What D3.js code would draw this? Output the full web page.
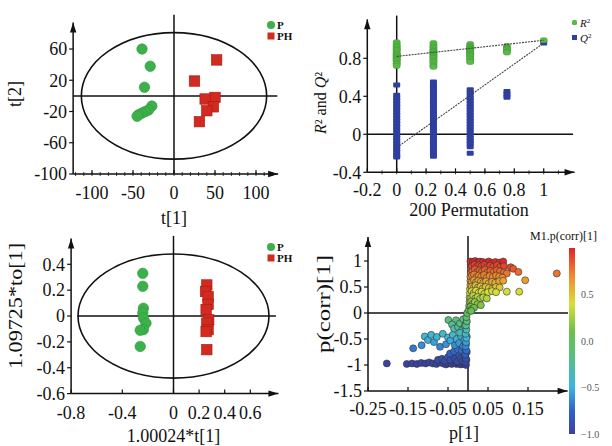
<!DOCTYPE html>
<html>
<head>
<meta charset="utf-8">
<script src="https://cdn.jsdelivr.net/npm/d3@7"></script>
<style>
  body { margin: 0; background: #fff; }
  svg { display: block; }
  text { font-family: "Liberation Serif", "Times New Roman", serif; fill: #111; }
</style>
</head>
<body>
<script>
// ---------- data ----------

// PCA score plot (top left)
var pcaP_t1  = [-39, -29, -36, -27, -31, -35, -39, -43, -45];
var pcaP_t2  = [60, 38, 11, -13, -18, -20, -22, -24, -26];
var pcaPH_t1 = [52, 25, 50, 38, 48, 40, 31];
var pcaPH_t2 = [46, 19, -2, -4, -14, -19, -33];
var pcaXTicks = [-100, -50, 0, 50, 100];
var pcaYTicks = [60, 20, -20, -60, -100];

// permutation test (top right)
var permX = [0, 0.25, 0.5, 0.75, 1];
var r2Perm = [
  [0.97, 0.95, 0.93, 0.92, 0.90, 0.89, 0.88, 0.86, 0.85, 0.84, 0.83, 0.82, 0.81, 0.80, 0.79, 0.78, 0.77, 0.75, 0.74, 0.72],
  [0.96, 0.94, 0.92, 0.91, 0.89, 0.88, 0.87, 0.86, 0.85, 0.84, 0.83, 0.82, 0.81, 0.80, 0.78, 0.77, 0.76, 0.74, 0.72, 0.71],
  [0.95, 0.93, 0.92, 0.91, 0.90, 0.89, 0.88, 0.87, 0.86, 0.85, 0.84, 0.83, 0.82, 0.80, 0.79, 0.77, 0.76],
  [0.93, 0.91, 0.90, 0.89, 0.87, 0.86],
  [0.99]
];
var q2Perm = [
  [0.52, 0.41, 0.38, 0.35, 0.32, 0.29, 0.26, 0.23, 0.20, 0.17, 0.14, 0.11, 0.08, 0.05, 0.02, -0.01, -0.04, -0.07, -0.10, -0.13, -0.16, -0.19, -0.22, -0.24],
  [0.55, 0.52, 0.49, 0.46, 0.43, 0.40, 0.37, 0.34, 0.31, 0.28, 0.25, 0.22, 0.19, 0.16, 0.13, 0.10, 0.07, 0.04, 0.01, -0.02, -0.05, -0.08, -0.11, -0.14, -0.17, -0.20, -0.23],
  [0.47, 0.44, 0.41, 0.38, 0.35, 0.32, 0.29, 0.26, 0.23, 0.20, 0.17, 0.14, 0.11, 0.08, 0.05, 0.02, -0.01, -0.04, -0.07, -0.10, -0.13, -0.20],
  [0.45, 0.42, 0.39],
  [0.96]
];
var r2Fit = [[0, 0.82], [1, 0.99]];
var q2Fit = [[0, -0.14], [1, 0.96]];
var permXTicks = [-0.2, 0, 0.2, 0.4, 0.6, 0.8, 1];
var permYTicks = [0.8, 0.4, 0, -0.4];

// OPLS-DA score plot (bottom left)
var oplsP_t  = [-0.24, -0.24, -0.235, -0.24, -0.235, -0.215, -0.235, -0.26, -0.26];
var oplsP_to = [0.33, 0.23, 0.06, 0.025, -0.015, -0.055, -0.105, -0.11, -0.235];
var oplsPH_t  = [0.26, 0.25, 0.27, 0.27, 0.255, 0.275, 0.26, 0.27, 0.255, 0.26];
var oplsPH_to = [0.24, 0.19, 0.15, 0.09, 0.05, -0.03, -0.055, -0.105, -0.12, -0.26];
var oplsXTicks = [-0.8, -0.4, 0, 0.2, 0.4, 0.6];
var oplsYTicks = [0.4, 0.2, 0, -0.2, -0.4, -0.6];

// S-plot (bottom right): [p[1], p(corr)[1]]
var sPlot = [
  [-0.203,-0.97],[-0.153,-0.98],[-0.140,-0.97],[-0.128,-0.98],[-0.117,-0.96],[-0.106,-0.97],[-0.097,-0.95],
  [-0.088,-0.97],[-0.079,-0.98],[-0.070,-0.95],[-0.062,-0.97],[-0.055,-0.99],[-0.048,-0.96],[-0.041,-0.98],
  [-0.035,-0.95],[-0.029,-0.98],[-0.023,-0.97],[-0.018,-0.99],[-0.013,-0.96],[-0.009,-0.98],[-0.005,-1.0],
  [-0.075,-0.90],[-0.065,-0.88],[-0.058,-0.92],[-0.050,-0.85],[-0.044,-0.90],[-0.038,-0.82],[-0.032,-0.88],
  [-0.027,-0.93],[-0.022,-0.80],[-0.018,-0.87],[-0.014,-0.92],[-0.010,-0.78],[-0.007,-0.85],[-0.004,-0.90],
  [-0.045,-0.78],[-0.035,-0.74],[-0.025,-0.70],[-0.016,-0.72],[-0.008,-0.68],[-0.003,-0.75],
  [-0.137,-0.68],[-0.116,-0.62],[-0.108,-0.45],[-0.100,-0.52],[-0.092,-0.42],[-0.085,-0.56],[-0.078,-0.46],
  [-0.070,-0.65],[-0.063,-0.40],[-0.055,-0.60],[-0.050,-0.47],[-0.044,-0.53],[-0.038,-0.42],[-0.033,-0.62],
  [-0.028,-0.50],[-0.022,-0.58],[-0.018,-0.44],[-0.012,-0.64],[-0.009,-0.52],[-0.005,-0.60],[-0.003,-0.45],
  [-0.049,-0.135],[-0.030,-0.14],[-0.040,-0.22],[-0.035,-0.30],[-0.025,-0.27],[-0.020,-0.20],[-0.015,-0.33],
  [-0.012,-0.12],[-0.008,-0.25],[-0.004,-0.18],[-0.020,-0.38],
  [-0.006,-0.95],[-0.005,-0.88],[-0.007,-0.80],[-0.004,-0.72],[-0.006,-0.64],[-0.005,-0.56],[-0.004,-0.48],
  [-0.006,-0.40],[-0.004,-0.32],[-0.005,-0.24],[-0.003,-0.16],[-0.004,-0.08],[-0.002,0.0],
  [0.002,0.06],[0.003,0.14],[0.004,0.22],[0.004,0.30],[0.005,0.38],[0.005,0.46],[0.006,0.54],[0.006,0.62],
  [0.006,0.70],[0.007,0.78],[0.007,0.86],[0.007,0.94],
  [0.006,0.99],[0.012,0.98],[0.018,1.0],[0.024,0.97],[0.030,0.99],[0.037,0.98],[0.045,0.97],[0.052,0.99],
  [0.060,0.96],[0.068,0.98],[0.078,0.97],[0.088,0.99],
  [0.010,0.90],[0.016,0.93],[0.022,0.89],[0.028,0.92],[0.034,0.90],[0.041,0.93],[0.048,0.88],[0.055,0.91],
  [0.063,0.89],[0.072,0.92],[0.080,0.88],[0.090,0.90],[0.107,0.88],[0.113,0.85],
  [0.011,0.80],[0.017,0.84],[0.023,0.79],[0.029,0.82],[0.035,0.80],[0.042,0.83],[0.049,0.78],[0.056,0.81],
  [0.064,0.79],[0.072,0.82],[0.080,0.80],[0.090,0.78],[0.097,0.76],[0.126,0.79],[0.222,0.76],
  [0.010,0.72],[0.015,0.74],[0.021,0.69],[0.027,0.72],[0.033,0.70],[0.040,0.73],[0.047,0.68],[0.054,0.71],
  [0.062,0.69],[0.070,0.72],[0.078,0.70],[0.086,0.68],
  [0.010,0.60],[0.015,0.63],[0.020,0.59],[0.026,0.62],[0.032,0.60],[0.038,0.58],[0.045,0.61],[0.052,0.57],
  [0.060,0.60],[0.068,0.58],[0.078,0.61],[0.088,0.62],[0.143,0.63],
  [0.009,0.50],[0.014,0.48],[0.019,0.53],[0.025,0.49],[0.031,0.51],[0.037,0.47],[0.044,0.50],[0.052,0.48],
  [0.060,0.46],[0.070,0.50],[0.079,0.49],
  [0.009,0.42],[0.014,0.38],[0.020,0.43],[0.027,0.39],[0.034,0.41],[0.041,0.37],[0.050,0.40],[0.060,0.42],
  [0.070,0.40],[0.097,0.41],[0.128,0.41],
  [0.008,0.29],[0.013,0.33],[0.018,0.28],[0.024,0.31],[0.030,0.27],[0.038,0.30],[0.047,0.28],
  [0.008,0.22],[0.012,0.18],[0.017,0.21],[0.024,0.17],[0.032,0.15],
  [0.006,0.12],[0.010,0.08],[0.015,0.10],[0.008,0.04]
];
var sXTicks = [-0.25, -0.15, -0.05, 0.05, 0.15];
var sYTicks = [1, 0.5, 0, -0.5, -1, -1.5];
var cbTicks = [0.5, 0.0, -0.5, -1.0];

// ---------- drawing ----------
var svg = d3.select("body").append("svg")
    .attr("width", 612)
    .attr("height", 446);

var ink = "#111";
var green = "#3cb04a", red = "#d22a1f";

function arrowLine(x1, y1, x2, y2) {
  svg.append("line")
      .attr("x1", x1).attr("y1", y1).attr("x2", x2).attr("y2", y2)
      .attr("stroke", ink).attr("stroke-width", 1.5);
  var a = Math.atan2(y2 - y1, x2 - x1), L = 10, W = 3.2;
  var bx = x2 - L * Math.cos(a), by = y2 - L * Math.sin(a);
  svg.append("path")
      .attr("d", "M" + x2 + "," + y2 +
                 "L" + (bx + W * Math.sin(a)) + "," + (by - W * Math.cos(a)) +
                 "L" + (bx - W * Math.sin(a)) + "," + (by + W * Math.cos(a)) + "Z")
      .attr("fill", ink);
}

function plainLine(x1, y1, x2, y2) {
  svg.append("line")
      .attr("x1", x1).attr("y1", y1).attr("x2", x2).attr("y2", y2)
      .attr("stroke", ink).attr("stroke-width", 1.5);
}

function yTicks(ticks, y, axisX, fmt) {
  ticks.forEach(function(t) {
    svg.append("line").attr("x1", axisX - 4).attr("x2", axisX)
        .attr("y1", y(t)).attr("y2", y(t)).attr("stroke", ink).attr("stroke-width", 1.2);
    svg.append("text").attr("x", axisX - 6).attr("y", y(t)).attr("dy", "0.35em")
        .attr("text-anchor", "end").style("font-size", "18px").text(fmt ? fmt(t) : t);
  });
}

function xTicks(ticks, x, axisY, labelY, fmt) {
  ticks.forEach(function(t) {
    svg.append("line").attr("x1", x(t)).attr("x2", x(t))
        .attr("y1", axisY - 4).attr("y2", axisY).attr("stroke", ink).attr("stroke-width", 1.2);
    svg.append("text").attr("x", x(t)).attr("y", labelY)
        .attr("text-anchor", "middle").style("font-size", "18px").text(fmt ? fmt(t) : t);
  });
}

function minorTicks(values, x, axisY) {
  values.forEach(function(t) {
    svg.append("line").attr("x1", x(t)).attr("x2", x(t))
        .attr("y1", axisY - 2).attr("y2", axisY + 2).attr("stroke", ink).attr("stroke-width", 0.8);
  });
}

function groupLegend(x, y) {
  svg.append("circle").attr("cx", x).attr("cy", y).attr("r", 4)
      .attr("fill", green);
  svg.append("text").attr("x", x + 6).attr("y", y + 4)
      .style("font-size", "11px").style("font-weight", "bold").text("P");
  svg.append("rect").attr("x", x - 3.5).attr("y", y + 7.5).attr("width", 7).attr("height", 7)
      .attr("fill", red);
  svg.append("text").attr("x", x + 6).attr("y", y + 15)
      .style("font-size", "11px").style("font-weight", "bold").text("PH");
}

function drawScores(x, y, px, py, hx, hy, size) {
  svg.selectAll(null).data(px).enter().append("circle")
      .attr("cx", function(d) { return x(d); })
      .attr("cy", function(d, i) { return y(py[i]); })
      .attr("r", size / 2)
      .attr("fill", green).attr("stroke", "#2f9a3c").attr("stroke-width", 0.6);
  svg.selectAll(null).data(hx).enter().append("rect")
      .attr("x", function(d) { return x(d) - size / 2; })
      .attr("y", function(d, i) { return y(hy[i]) - size / 2; })
      .attr("width", size).attr("height", size)
      .attr("fill", red).attr("stroke", "#a51c14").attr("stroke-width", 0.6);
}

// ===== panel 1: PCA =====
var x1 = d3.scaleLinear().domain([-100, 100]).range([92, 256]);
var y1 = d3.scaleLinear().domain([-100, 60]).range([174, 49]);
svg.append("ellipse")
    .attr("cx", x1(0)).attr("cy", y1(0))
    .attr("rx", x1(113) - x1(0)).attr("ry", y1(0) - y1(81))
    .attr("fill", "none").attr("stroke", ink).attr("stroke-width", 1.6);
plainLine(x1(-123), y1(0), x1(126), y1(0));
plainLine(x1(0), y1(-100), x1(0), y1(104));
drawScores(x1, y1, pcaP_t1, pcaP_t2, pcaPH_t1, pcaPH_t2, 10.5);
arrowLine(x1(-123), y1(-100), x1(-123), y1(94));
arrowLine(x1(-123), y1(-100), x1(127), y1(-100));
minorTicks(d3.range(-120, 121, 10), x1, y1(-100));
yTicks(pcaYTicks, y1, x1(-123));
xTicks(pcaXTicks, x1, y1(-100), 199);
svg.append("text").attr("x", x1(0)).attr("y", 224).attr("text-anchor", "middle")
    .style("font-size", "18px").text("t[1]");
svg.append("text").attr("transform", "translate(21,94) rotate(-90)").attr("text-anchor", "middle")
    .style("font-size", "18px").text("t[2]");
groupLegend(271, 25);

// ===== panel 2: permutation test =====
var x2 = d3.scaleLinear().domain([0, 1]).range([396.7, 543.7]);
var y2 = d3.scaleLinear().domain([-0.4, 0.8]).range([172.3, 58.3]);
plainLine(x2(-0.2), y2(0), x2(1.2), y2(0));
plainLine(x2(0), y2(-0.4), x2(0), y2(1.25));

var r2Pts = [], q2Pts = [];
permX.forEach(function(px, i) {
  r2Perm[i].forEach(function(v) { r2Pts.push([px, v]); });
  q2Perm[i].forEach(function(v) { q2Pts.push([px, v]); });
});
svg.selectAll(null).data(q2Pts).enter().append("rect")
    .attr("x", function(d) { return x2(d[0]) - 3.5; })
    .attr("y", function(d) { return y2(d[1]) - 2.5; })
    .attr("width", 7).attr("height", 5).attr("rx", 1)
    .attr("fill", "#2f3f9f");
svg.selectAll(null).data(r2Pts).enter().append("rect")
    .attr("x", function(d) { return x2(d[0]) - 3.5; })
    .attr("y", function(d) { return y2(d[1]) - 2.5; })
    .attr("width", 7).attr("height", 5).attr("rx", 2)
    .attr("fill", "#5cb848").attr("stroke", "#3f9a35").attr("stroke-width", 0.5);
var fitLine = d3.line().x(function(d) { return x2(d[0]); }).y(function(d) { return y2(d[1]); });
[r2Fit, q2Fit].forEach(function(f) {
  svg.append("path").attr("d", fitLine(f))
      .attr("fill", "none").attr("stroke", "#444").attr("stroke-width", 1.1)
      .attr("stroke-dasharray", "2,1");
});
arrowLine(x2(-0.2), y2(-0.4), x2(-0.2), y2(1.21));
arrowLine(x2(-0.2), y2(-0.4), x2(1.21), y2(-0.4));
minorTicks(d3.range(-0.1, 1.15, 0.1), x2, y2(-0.4));
yTicks(permYTicks, y2, x2(-0.2));
xTicks(permXTicks, x2, y2(-0.4), 196);
svg.append("text").attr("x", 469).attr("y", 216).attr("text-anchor", "middle")
    .style("font-size", "18px").text("200 Permutation");
var r2lab = svg.append("text").attr("transform", "translate(326,103) rotate(-90)")
    .attr("text-anchor", "middle").style("font-size", "16px");
r2lab.append("tspan").style("font-style", "italic").text("R");
r2lab.append("tspan").text("² and ");
r2lab.append("tspan").style("font-style", "italic").text("Q");
r2lab.append("tspan").text("²");
// legend
svg.append("rect").attr("x", 572).attr("y", 20).attr("width", 5).attr("height", 5).attr("rx", 1.5)
    .attr("fill", "#5cb848");
svg.append("rect").attr("x", 572).attr("y", 35).attr("width", 5).attr("height", 5)
    .attr("fill", "#2f3f9f");
var lg1 = svg.append("text").attr("x", 580).attr("y", 27).style("font-size", "11px");
lg1.append("tspan").style("font-style", "italic").text("R");
lg1.append("tspan").style("font-size", "7px").attr("dy", -4).text("2");
var lg2 = svg.append("text").attr("x", 580).attr("y", 42).style("font-size", "11px");
lg2.append("tspan").style("font-style", "italic").text("Q");
lg2.append("tspan").style("font-size", "7px").attr("dy", -4).text("2");

// ===== panel 3: OPLS-DA =====
var x3 = d3.scaleLinear().domain([0, 0.6]).range([173.5, 250.3]);
var y3 = d3.scaleLinear().domain([-0.6, 0.4]).range([393.6, 264.3]);
svg.append("ellipse")
    .attr("cx", x3(0)).attr("cy", y3(0))
    .attr("rx", x3(0.746) - x3(0)).attr("ry", y3(0) - y3(0.48))
    .attr("fill", "none").attr("stroke", ink).attr("stroke-width", 1.6);
plainLine(x3(-0.75), y3(0), x3(0.8), y3(0));
plainLine(x3(0), y3(-0.6), x3(0), y3(0.62));
drawScores(x3, y3, oplsP_t, oplsP_to, oplsPH_t, oplsPH_to, 10.5);
arrowLine(x3(-0.8), y3(-0.6), x3(-0.8), y3(0.6));
arrowLine(x3(-0.8), y3(-0.6), x3(0.82), y3(-0.6));
yTicks(oplsYTicks, y3, x3(-0.8));
xTicks(oplsXTicks, x3, y3(-0.6), 419);
svg.append("text").attr("x", x3(0)).attr("y", 442).attr("text-anchor", "middle")
    .style("font-size", "18px").text("1.00024*t[1]");
svg.append("text").attr("transform", "translate(22,306) rotate(-90)").attr("text-anchor", "middle")
    .attr("textLength", 126).attr("lengthAdjust", "spacingAndGlyphs")
    .style("font-size", "19px").text("1.09725*to[1]");
groupLegend(271, 247);

// ===== panel 4: S-plot =====
var x4 = d3.scaleLinear().domain([-0.25, 0.15]).range([368, 528]);
var y4 = d3.scaleLinear().domain([-1.5, 1]).range([391, 261]);
var jet = d3.scaleLinear()
    .domain([-1, -0.75, -0.5, -0.2, 0.1, 0.4, 0.7, 1])
    .range(["#3b3f9c", "#2f62cc", "#3cb4e2", "#55bf8a", "#6cc049", "#d6df3a", "#f08a2c", "#e2232a"]);
plainLine(x4(-0.25), y4(0), x4(0.25), y4(0));
plainLine(x4(0), y4(-1.5), x4(0), y4(1.48));
svg.selectAll(null).data(sPlot).enter().append("circle")
    .attr("cx", function(d) { return x4(d[0]); })
    .attr("cy", function(d) { return y4(d[1]); })
    .attr("r", 3.5)
    .attr("fill", function(d) { return jet(d[1]); })
    .attr("stroke", "#333").attr("stroke-width", 0.6);
arrowLine(x4(-0.25), y4(-1.5), x4(-0.25), y4(1.46));
arrowLine(x4(-0.25), y4(-1.5), x4(0.249), y4(-1.5));
yTicks(sYTicks, y4, x4(-0.25));
xTicks(sXTicks, x4, y4(-1.5), 415);
svg.append("text").attr("x", 464).attr("y", 439).attr("text-anchor", "middle")
    .style("font-size", "18px").text("p[1]");
svg.append("text").attr("transform", "translate(330,304) rotate(-90)").attr("text-anchor", "middle")
    .attr("textLength", 98).attr("lengthAdjust", "spacingAndGlyphs")
    .style("font-size", "19px").text("p(corr)[1]");

// colour bar
var cb = d3.scaleLinear().domain([-1, 1]).range([434, 248]);
var grad = svg.append("defs").append("linearGradient").attr("id", "jetbar")
    .attr("x1", 0).attr("y1", 1).attr("x2", 0).attr("y2", 0);
jet.domain().forEach(function(v) {
  grad.append("stop").attr("offset", (v + 1) / 2).attr("stop-color", jet(v));
});
svg.append("rect").attr("x", 569).attr("y", cb(1)).attr("width", 6).attr("height", cb(-1) - cb(1))
    .attr("fill", "url(#jetbar)");
cbTicks.forEach(function(t) {
  svg.append("text").attr("x", 581).attr("y", cb(t)).attr("dy", "0.35em")
      .style("font-size", "10px").style("fill", "#555").text(d3.format(".1f")(t));
});
svg.append("text").attr("x", 530).attr("y", 240).style("font-size", "12px").text("M1.p(corr)[1]");
</script>
</body>
</html>
